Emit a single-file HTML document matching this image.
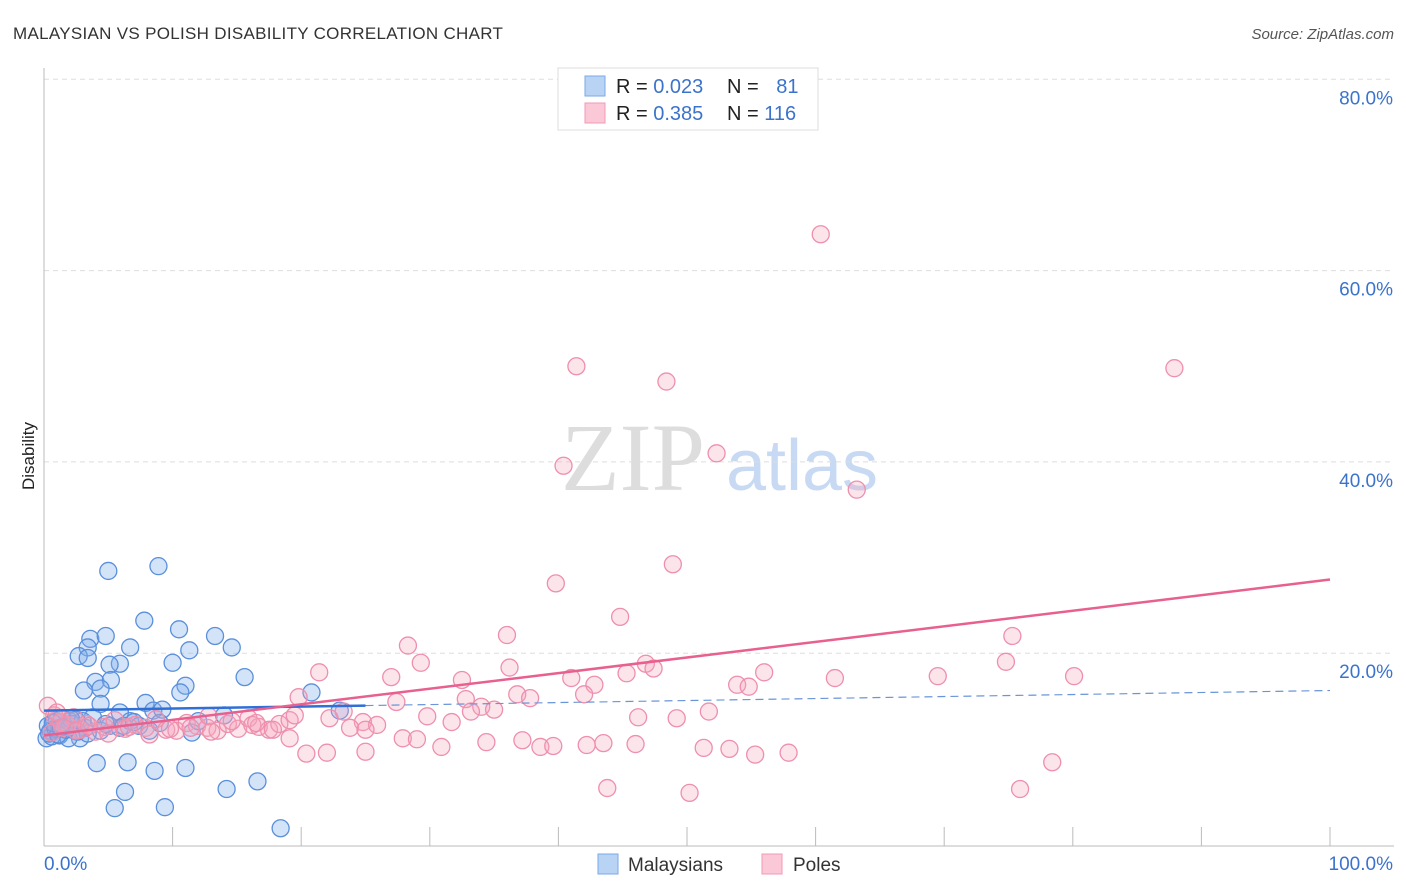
<!DOCTYPE html>
<html><head><meta charset="utf-8"><style>
body{margin:0;background:#fff;font-family:"Liberation Sans",sans-serif}
</style></head><body>
<svg id="chart" width="1406" height="892" xmlns="http://www.w3.org/2000/svg" style="display:block">
<text x="13" y="39" font-size="17" fill="#333" letter-spacing="0.3">MALAYSIAN VS POLISH DISABILITY CORRELATION CHART</text>
<text x="1394" y="39" font-size="15" fill="#555" text-anchor="end" font-style="italic">Source: ZipAtlas.com</text>
<text x="34" y="456" font-size="17" fill="#222" text-anchor="middle" transform="rotate(-90 34 456)">Disability</text>
<g>
<text x="633" y="490" font-size="96" fill="#ddd" text-anchor="middle" font-family="Liberation Serif,serif">ZIP</text>
<text x="802" y="490" font-size="72" fill="#c8daf3" text-anchor="middle">atlas</text>
</g>
<g id="grid"></g><g id="axes"></g><g id="marks"></g>
<g>
<rect x="558" y="68" width="260" height="62" fill="#fff" stroke="#ddd"/>
<rect x="585" y="76" width="20" height="20" fill="#b9d3f5" stroke="#7aa8e6"/>
<rect x="585" y="103" width="20" height="20" fill="#fac8d6" stroke="#f19ab5"/>
<text x="616" y="93" font-size="20" fill="#222">R = <tspan fill="#3b73cc">0.023</tspan></text>
<text x="727" y="93" font-size="20" fill="#222">N = <tspan fill="#3b73cc" dx="12">81</tspan></text>
<text x="616" y="120" font-size="20" fill="#222">R = <tspan fill="#3b73cc">0.385</tspan></text>
<text x="727" y="120" font-size="20" fill="#222">N = <tspan fill="#3b73cc">116</tspan></text>
</g>
<g>
<rect x="598" y="854" width="20" height="20" fill="#b9d3f5" stroke="#7aa8e6"/>
<text x="628" y="871" font-size="19" fill="#333">Malaysians</text>
<rect x="762" y="854" width="20" height="20" fill="#fac8d6" stroke="#f19ab5"/>
<text x="793" y="871" font-size="19" fill="#333">Poles</text>
</g>
</svg>
<script>
const yTicks=[20,40,60,80];
const yTickLabels=["20.0%","40.0%","60.0%","80.0%"];
const xTicks=[0,10,20,30,40,50,60,70,80,90,100];
const blueX=[5.0,8.9,7.8,10.5,3.6,4.8,13.3,3.4,6.7,14.6,2.7,3.4,5.9,5.1,10.0,11.3,4.0,5.2,15.6,3.1,4.4,11.0,10.6,20.8,4.4,7.9,8.5,9.2,5.9,14.0,23.0,4.1,6.5,8.6,11.0,16.6,14.2,6.3,5.5,9.4,18.4,0.5,0.8,1.2,1.6,2.0,2.4,2.8,3.2,3.8,4.4,5.1,5.9,6.7,7.4,8.2,9.0,11.5,0.2,0.6,1.9,3.4,0.3,1.0,1.4,2.2,2.6,3.0,0.4,0.9,1.7,2.5,4.8,6.2,7.0,1.1,1.5,2.1,0.7,1.3,12.0];
const blueY=[28.6,29.1,23.4,22.5,21.5,21.8,21.8,20.6,20.6,20.6,19.7,19.5,18.9,18.8,19.0,20.3,17.0,17.2,17.5,16.1,16.3,16.6,15.9,15.9,14.7,14.8,14.0,14.1,13.8,13.5,14.0,8.5,8.6,7.7,8.0,6.6,5.8,5.5,3.8,3.9,1.7,11.9,12.9,11.4,12.4,12.9,11.9,11.1,12.2,13.3,11.9,12.4,12.2,12.9,12.4,11.9,12.7,11.7,11.1,11.3,11.1,11.6,12.4,12.9,13.2,12.6,11.8,12.9,11.6,12.1,12.0,13.0,12.6,12.4,12.8,11.5,12.3,13.1,12.7,12.2,12.9];
const pinkX=[60.4,41.4,48.4,87.9,52.3,40.4,63.2,48.9,39.8,44.8,36.0,75.3,28.3,46.8,74.8,29.3,21.4,36.2,47.4,56.0,27.0,32.5,41.0,45.3,42.8,53.9,54.8,61.5,69.5,80.1,32.8,36.8,37.8,42.0,27.4,34.0,35.0,33.2,19.8,23.3,22.2,29.8,31.7,46.2,49.2,51.7,24.8,25.9,23.8,25.0,19.1,20.4,22.0,25.0,27.9,29.0,30.9,34.4,37.2,38.6,39.6,42.2,43.5,46.0,51.3,53.3,55.3,57.9,43.8,50.2,75.9,78.4,0.3,0.8,1.3,1.8,2.3,2.8,3.3,4.0,4.7,5.5,6.3,7.1,7.9,8.7,9.5,10.3,11.1,11.9,12.7,13.5,14.3,15.1,15.9,16.7,17.5,18.3,19.1,0.6,1.5,2.5,3.5,5.0,6.6,8.2,9.8,11.4,13.0,14.6,16.2,17.8,1.0,12.8,16.5,19.5];
const pinkY=[63.8,50.0,48.4,49.8,40.9,39.6,37.1,29.3,27.3,23.8,21.9,21.8,20.8,18.9,19.1,19.0,18.0,18.5,18.4,18.0,17.5,17.2,17.4,17.9,16.7,16.7,16.5,17.4,17.6,17.6,15.2,15.7,15.3,15.7,14.9,14.4,14.1,13.9,15.4,13.9,13.2,13.4,12.8,13.3,13.2,13.9,12.8,12.5,12.2,12.0,11.1,9.5,9.6,9.7,11.1,11.0,10.2,10.7,10.9,10.2,10.3,10.4,10.6,10.5,10.1,10.0,9.4,9.6,5.9,5.4,5.8,8.6,14.5,13.5,12.8,12.5,13.3,12.0,12.6,11.8,12.3,13.0,12.1,12.5,12.2,13.1,12.0,11.9,12.7,12.4,12.2,11.9,12.6,12.1,13.2,12.3,12.0,12.6,13.0,11.7,12.2,11.9,12.4,11.6,12.3,11.5,12.1,12.2,11.8,12.9,12.5,12.0,13.8,13.4,12.7,13.5];
const blueLine=[14.0,16.1];
const pinkLine=[11.4,27.7];
const NS="http://www.w3.org/2000/svg";
const sx=v=>44+v*12.86, sy=v=>844.5-v*9.565;
function mk(tag,attrs,parent){const e=document.createElementNS(NS,tag);for(const k in attrs)e.setAttribute(k,attrs[k]);document.getElementById(parent).appendChild(e);return e;}
yTicks.forEach((t,i)=>{
 const g=mk('line',{x1:44,x2:1394,y1:sy(t),y2:sy(t),stroke:'#ddd','stroke-dasharray':'5,4'},'grid');
 
 
 const l=mk('text',{x:1393,y:sy(t)+25,'font-size':19,fill:'#3b73cc','text-anchor':'end'},'axes');
 l.textContent=yTickLabels[i];
 
 
});
const ya=mk('line',{x1:44,x2:44,y1:68,y2:846,stroke:'#bbb'},'axes');


const xa=mk('line',{x1:44,x2:1394,y1:846,y2:846,stroke:'#bbb'},'axes');


xTicks.forEach(t=>{const k=mk('line',{x1:sx(t),x2:sx(t),y1:827,y2:846,stroke:'#bbb'},'axes');
 
 });
const x0=mk('text',{x:44,y:870,'font-size':19,fill:'#3b73cc'},'axes');x0.textContent='0.0%';


const x1=mk('text',{x:1393,y:870,'font-size':19,fill:'#3b73cc','text-anchor':'end'},'axes');x1.textContent='100.0%';


blueX.forEach((v,i)=>{const c=mk('circle',{cx:sx(v),cy:sy(blueY[i]),r:8.5,fill:'rgba(130,176,235,0.35)',stroke:'#5a8fdc','stroke-width':1.3},'marks');
 
 });
pinkX.forEach((v,i)=>{const c=mk('circle',{cx:sx(v),cy:sy(pinkY[i]),r:8.5,fill:'rgba(246,165,190,0.3)',stroke:'#ee8fae','stroke-width':1.3},'marks');
 
 });
const bl=v=>blueLine[0]+(blueLine[1]-blueLine[0])*v/100;
const b1=mk('line',{x1:sx(0),y1:sy(bl(0)),x2:sx(25),y2:sy(bl(25)),stroke:'#2f6fd6','stroke-width':2.5},'marks');


const b2=mk('line',{x1:sx(25),y1:sy(bl(25)),x2:sx(100),y2:sy(bl(100)),stroke:'#6a95d8','stroke-width':1.2,'stroke-dasharray':'8,5'},'marks');


const p1=mk('line',{x1:sx(0),y1:sy(pinkLine[0]),x2:sx(100),y2:sy(pinkLine[1]),stroke:'#e8608f','stroke-width':2.5},'marks');


</script>
</body></html>
